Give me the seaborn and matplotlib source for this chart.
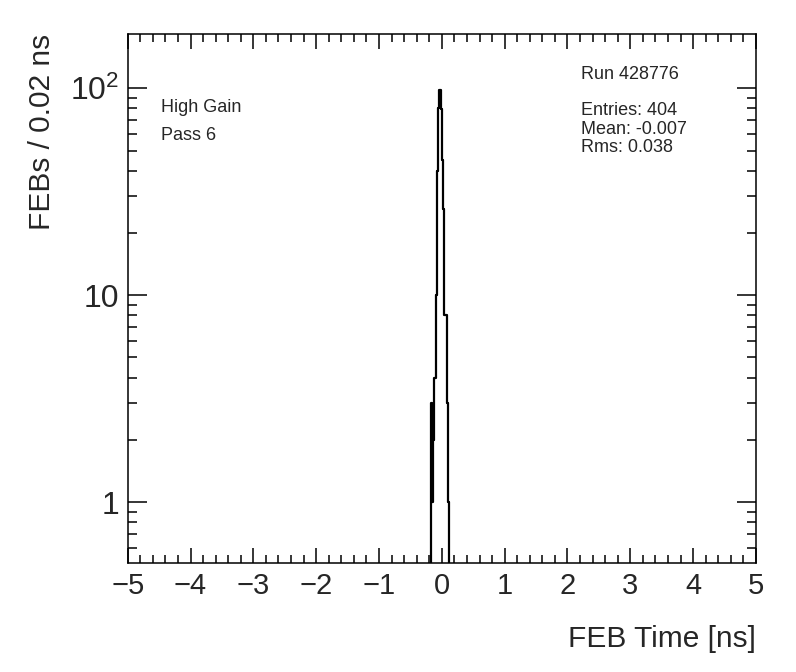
import numpy as np
import pandas as pd
import matplotlib
matplotlib.use("Agg")
import matplotlib.pyplot as plt
import seaborn as sns
from matplotlib.ticker import MultipleLocator, LogLocator, FixedLocator, FixedFormatter, NullFormatter

# ---- data (bin lower edges in ns, counts per 0.02 ns bin) ----
bin_low = [-0.18, -0.16, -0.14, -0.12, -0.10, -0.08, -0.06, -0.04, -0.02,
           0.00, 0.02, 0.04, 0.06, 0.08, 0.10]
counts = [3, 1, 2, 4, 10, 40, 80, 98, 79, 45, 26, 8, 8, 3, 1]
bin_width = 0.02
x_range = (-5.0, 5.0)
y_ticks = [1, 10, 100]
y_ticklabels = ["1", "10", r"$\mathregular{10^{2}}$"]
x_ticks = [-5, -4, -3, -2, -1, 0, 1, 2, 3, 4, 5]
run_text = "Run 428776"
stats_text = ["Entries: 404", "Mean: -0.007", "Rms: 0.038"]
info_text = ["High Gain", "Pass 6"]

sns.set_style("ticks")
plt.rcParams["font.family"] = ["Liberation Sans", "DejaVu Sans"]
plt.rcParams["mathtext.fontset"] = "custom"
plt.rcParams["mathtext.rm"] = "Liberation Sans"

fig = plt.figure(figsize=(7.96, 6.72), dpi=100)
ax = fig.add_axes([0.1604, 0.1618, 0.9497 - 0.1604, 0.9494 - 0.1618])

df = pd.DataFrame({"t": np.array(bin_low) + bin_width / 2,
                   "n": np.array(counts, dtype=float)})
nbins = int(round((x_range[1] - x_range[0]) / bin_width))
sns.histplot(data=df, x="t", weights="n", bins=nbins, binrange=x_range,
             element="step", fill=False, color="black", linewidth=1.6, ax=ax)

ax.set_yscale("log")
ax.set_xlim(*x_range)
ax.set_ylim(0.506, 183)

ax.xaxis.set_major_locator(FixedLocator(x_ticks))
ax.xaxis.set_minor_locator(MultipleLocator(0.2))
ax.yaxis.set_major_locator(FixedLocator(y_ticks))
ax.yaxis.set_major_formatter(FixedFormatter(y_ticklabels))
ax.yaxis.set_minor_locator(LogLocator(base=10, subs=np.arange(2, 10), numticks=20))
ax.yaxis.set_minor_formatter(NullFormatter())

ax.tick_params(axis="both", which="both", direction="in", top=True, right=True,
               color="black", width=1.1)
ax.tick_params(axis="x", which="major", length=11, labelsize=21, pad=6)
ax.tick_params(axis="x", which="minor", length=5.5)
ax.tick_params(axis="y", which="major", length=14, labelsize=23, pad=6)
ax.tick_params(axis="y", which="minor", length=6.5)
for s in ax.spines.values():
    s.set_linewidth(1.1)
    s.set_color("black")

ax.set_xlabel("FEB Time [ns]", fontsize=21.5, loc="right", labelpad=18)
ax.set_ylabel("FEBs / 0.02 ns", fontsize=21.5, loc="top", labelpad=10)

fs = 13
ax.text(0.0525, 0.861, info_text[0], transform=ax.transAxes, fontsize=fs, va="center")
ax.text(0.0525, 0.808, info_text[1], transform=ax.transAxes, fontsize=fs, va="center")
ax.text(0.7210, 0.924, run_text, transform=ax.transAxes, fontsize=fs, va="center")
for i, t in enumerate(stats_text):
    ax.text(0.7210, 0.856 - i * 0.0355, t, transform=ax.transAxes, fontsize=fs, va="center")

fig.savefig("out.png", dpi=100)
